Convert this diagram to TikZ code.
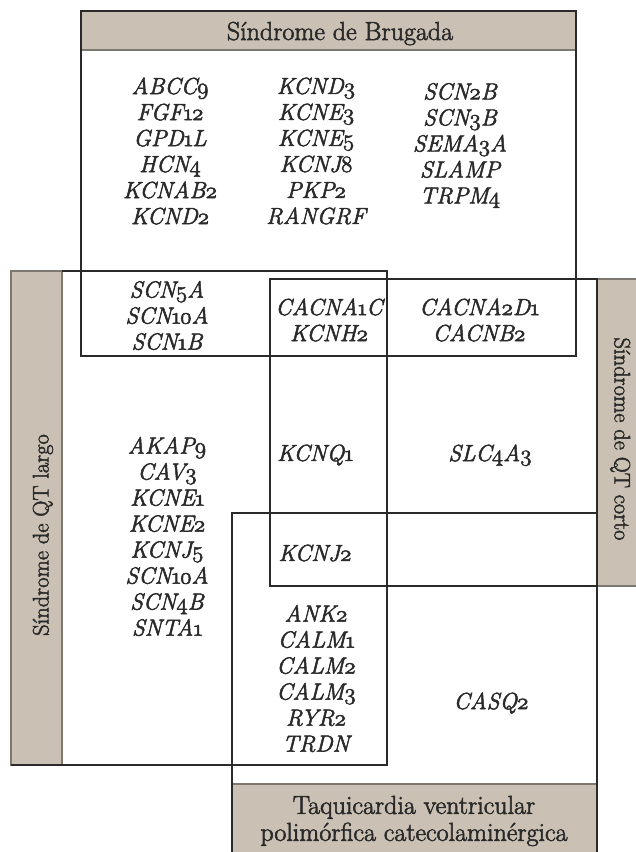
\RequirePackage{fix-cm}
\documentclass[tikz,border=0pt]{standalone}
\usepackage{fontspec}
\setmainfont{Latin Modern Roman}[FakeBold=2.2]
\definecolor{bar}{HTML}{CAC1B4}
\definecolor{ln}{HTML}{2A2A2A}
\definecolor{barln}{HTML}{7E776E}
\newcommand\on[1]{{\special{pdf:literal direct 2 Tr 0.5 w}\usefont{OML}{cmm}{m}{it}#1\special{pdf:literal direct 0 Tr}}}
\newcommand\one{\kern-0.05em\on{1}\kern-0.07em}
\tikzset{
  box/.style={draw=ln, line width=1.3pt},
  barfill/.style={fill=bar},
  barline/.style={draw=barln, line width=1.1pt},
  gene/.style={font=\fontsize{23.3}{26}\selectfont\itshape, align=center, inner sep=0pt, text=ln},
  head/.style={font=\fontsize{26}{27}\selectfont, inner sep=0pt, text=ln},
  side/.style={font=\fontsize{22.5}{24}\selectfont, inner sep=0pt, text=ln}
}
\begin{document}
\begin{tikzpicture}[x=1pt,y=-1pt]
\useasboundingbox (0,0) rectangle (635,852);
% gray bars
\fill[barfill] (81,11) rectangle (576,50);
\fill[barfill] (11,271) rectangle (62,765);
\fill[barfill] (597,279) rectangle (636,586);
\fill[barfill] (232,784) rectangle (597,853);
\draw[barline] (11,271) rectangle (62,765);
\draw[barline] (597,279) rectangle (637,586);
\draw[barline] (232,784) -- (597,784);
\draw[barline] (81,50) -- (576,50);
% boxes
\draw[box] (81,11) rectangle (576,356);
\draw[box] (62,271) -- (387,271) -- (387,765) -- (11,765);
\draw[box] (270,279) rectangle (597,586);
\draw[box] (232,853) -- (232,513) -- (597,513) -- (597,853);
% headers
\node[head, anchor=base] (hb) at (340,40) {Síndrome de Brugada};
\node[head, align=center] (hc) at (414,821) {Taquicardia ventricular\\polimórfica catecolaminérgica};
\node[side, rotate=90, anchor=base] (hl) at (48.5,535) {Síndrome de QT largo};
\node[side, rotate=-90, anchor=base] (hs) at (614.5,439) {Síndrome de QT corto};
% genes
\node[gene] (b1) at (170,151) {ABCC\on9\\FGF\one\on{2}\\GPD\one L\\HCN\on4\\KCNAB\on2\\KCND\on2};
\node[gene] (b2) at (316,151) {KCND\on3\\KCNE\on3\\KCNE\on5\\KCNJ\on8\\PKP\on2\\RANGRF};
\node[gene] (b3) at (460,145.5) {SCN\on2B\\SCN\on3B\\SEMA\on3A\\SLAMP\\TRPM\on4};
\node[gene] (bl) at (167,315.5) {SCN\on5A\\SCN\one\on{0}A\\SCN\one B};
\node[gene] (bls) at (329,320) {CACNA\one C\\KCNH\on2};
\node[gene] (bs) at (479,320) {CACNA\on2D\one\\CACNB\on2};
\node[gene] (l) at (167,536.5) {AKAP\on9\\CAV\on3\\KCNE\one\\KCNE\on2\\KCNJ\on5\\SCN\one\on{0}A\\SCN\on4B\\SNTA\one};
\node[gene] (ls) at (315,455) {KCNQ\one};
\node[gene] (s) at (490,455) {SLC\on4A\on3};
\node[gene] (lsc) at (315,553) {KCNJ\on2};
\node[gene] (lc) at (316,678.5) {ANK\on2\\CALM\one\\CALM\on2\\CALM\on3\\RYR\on2\\TRDN};
\node[gene] (c) at (491,703) {CASQ\on2};
\end{tikzpicture}
\end{document}
